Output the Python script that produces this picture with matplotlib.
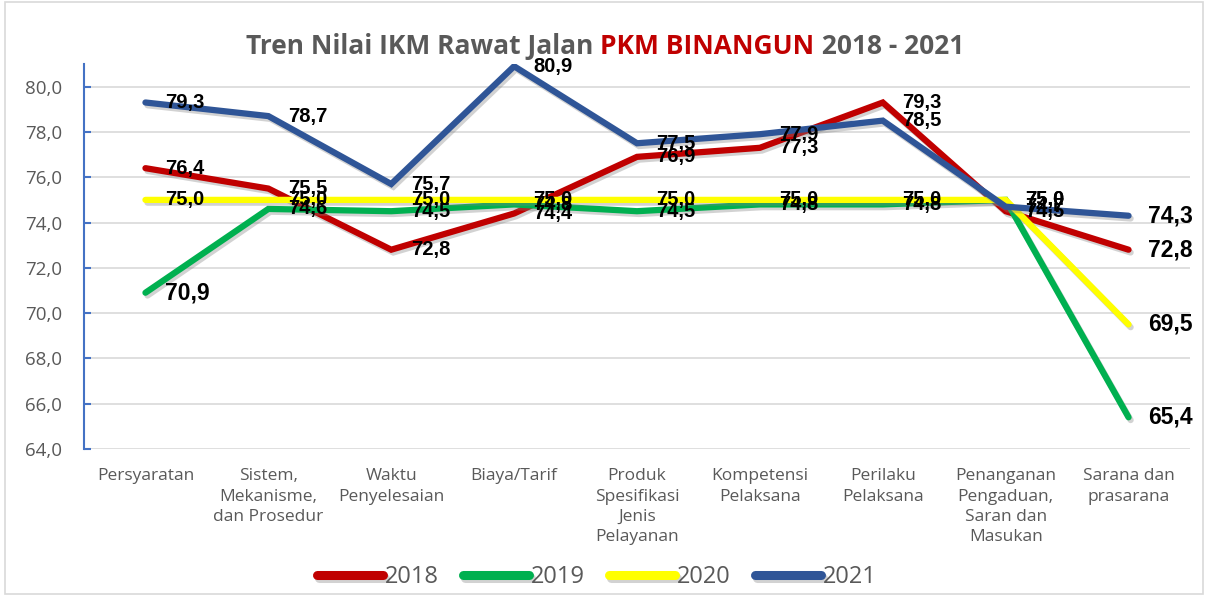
import matplotlib.pyplot as plt
import matplotlib.patheffects as pe
from matplotlib import font_manager

kategori = ['Persyaratan', 'Sistem,\nMekanisme,\ndan Prosedur', 'Waktu\nPenyelesaian',
            'Biaya/Tarif', 'Produk\nSpesifikasi\nJenis\nPelayanan', 'Kompetensi\nPelaksana',
            'Perilaku\nPelaksana', 'Penanganan\nPengaduan,\nSaran dan\nMasukan', 'Sarana dan\nprasarana']
th2018 = [76.4, 75.5, 72.8, 74.4, 76.9, 77.3, 79.3, 74.5, 72.8]
th2019 = [70.9, 74.6, 74.5, 74.8, 74.5, 74.8, 74.8, 75.0, 65.4]
th2020 = [75.0, 75.0, 75.0, 75.0, 75.0, 75.0, 75.0, 75.0, 69.5]
th2021 = [79.3, 78.7, 75.7, 80.9, 77.5, 77.9, 78.5, 74.7, 74.3]
tahun = ['2018', '2019', '2020', '2021']
warna = ['#C00000', '#00B050', '#FFFF00', '#2F5597']
yticks = [64, 66, 68, 70, 72, 74, 76, 78, 80]

plt.rcParams['font.family'] = ['Open Sans', 'DejaVu Sans']
ada = {f.name for f in font_manager.fontManager.ttflist}
if 'Liberation Sans Narrow' in ada:
    font_label, uk_label = 'Liberation Sans Narrow', 17
else:
    font_label, uk_label = 'Liberation Sans', 14.5

fig = plt.figure(figsize=(12.08, 5.96), dpi=100)
ax = fig.add_axes([84/1208, 1-449/596, (1190-84)/1208, (449-64)/596])

x = range(len(kategori))
semua = [th2018, th2019, th2020, th2021]
bayangan = [pe.SimpleLineShadow(offset=(1.5, -2), alpha=0.35, shadow_color='gray'), pe.Normal()]
for data, lbl, c in zip(semua, tahun, warna):
    ax.plot(x, data, color=c, lw=4.5, label=lbl, solid_capstyle='round',
            solid_joinstyle='miter', path_effects=bayangan)

# label nilai (yang di ujung sedikit lebih besar)
for data in semua:
    for i, v in enumerate(data):
        besar = (i == 0 and v < 72) or i == 8
        ax.annotate(f'{v:.1f}'.replace('.', ','), (i, v), xytext=(14, 0),
                    textcoords='offset points', ha='left', va='center',
                    fontsize=uk_label + 2 if besar else uk_label, fontweight='bold',
                    fontfamily=font_label, color='black')

ax.set_xlim(-0.5, 8.5)
ax.set_ylim(64, 81)
ax.set_yticks(yticks)
ax.set_yticklabels([f'{t:.1f}'.replace('.', ',') for t in yticks], fontsize=13.5, color='#595959')
ax.set_xticks(list(x))
ax.set_xticklabels(kategori, fontsize=12.5, color='#595959', linespacing=1.35, va='top')
ax.tick_params(axis='x', length=0, pad=14)
ax.tick_params(axis='y', length=5, direction='in', color='#4472C4', width=1.5, pad=16)
ax.grid(axis='y', color='#D9D9D9', lw=1.2)
ax.set_axisbelow(True)
for s in ['top', 'right', 'bottom']:
    ax.spines[s].set_visible(False)
ax.spines['left'].set_color('#4472C4')
ax.spines['left'].set_linewidth(1.5)

# judul, tiga potong warna
ty = 1 - 46/596
t1 = fig.text(0.5, ty, 'Tren Nilai IKM Rawat Jalan ', fontsize=19, fontweight='bold',
              color='#595959', ha='left', va='center')
t2 = fig.text(0.5, ty, 'PKM BINANGUN', fontsize=19, fontweight='bold',
              color='#C00000', ha='left', va='center')
t3 = fig.text(0.5, ty, ' 2018 - 2021', fontsize=19, fontweight='bold',
              color='#595959', ha='left', va='center')
r = fig.canvas.get_renderer()
lebar = [t.get_window_extent(r).width for t in (t1, t2, t3)]
kiri = 605 - sum(lebar) / 2
for t, w in zip((t1, t2, t3), lebar):
    t.set_x(kiri / 1208)
    kiri += w

leg = fig.legend(loc='center', bbox_to_anchor=(0.494, 1-577/596), ncol=4, frameon=False,
                 fontsize=17, handlelength=2.8, handletextpad=0.1, columnspacing=1.0)
for t in leg.get_texts():
    t.set_color('#595959')
for h in leg.get_lines():
    h.set_linewidth(6.5)

fig.patches.append(plt.Rectangle((0.004, 0.004), 0.992, 0.992, transform=fig.transFigure,
                                 fill=False, edgecolor='#D9D9D9', lw=1.2))
fig.savefig('out.png', dpi=100)
